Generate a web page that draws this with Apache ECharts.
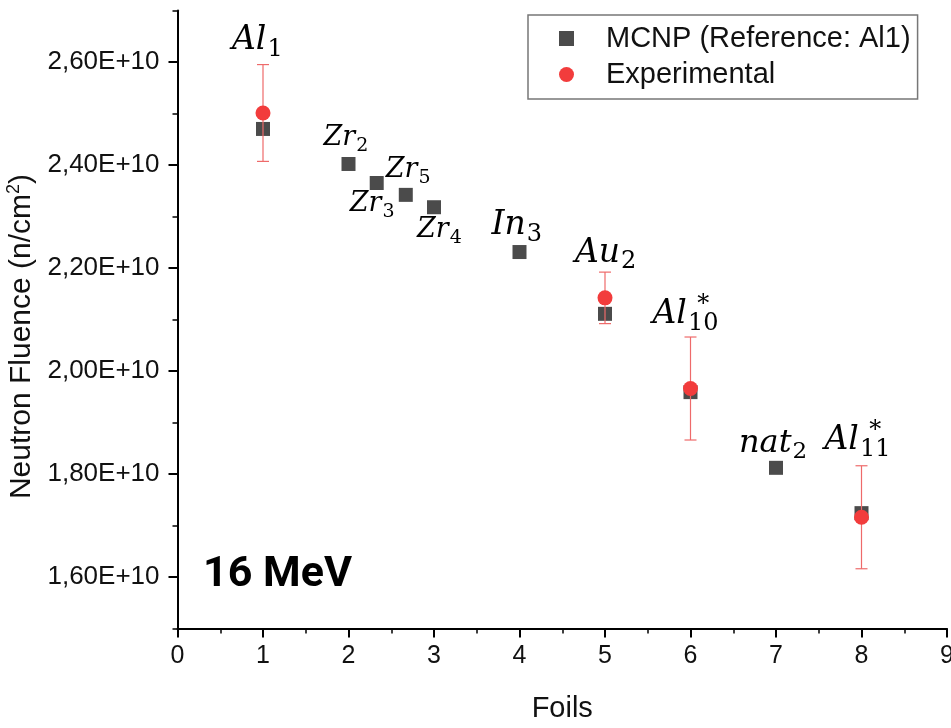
<!DOCTYPE html>
<html><head><meta charset="utf-8">
<script src="https://cdn.jsdelivr.net/npm/echarts@6/dist/echarts.min.js"></script>
<style>html,body{margin:0;padding:0;background:#fff}#c{width:951px;height:728px}</style>
</head><body><div id="c"></div>
<script>
// ---- data ----
const mcnpX = [1, 2, 2.33, 2.67, 3, 4, 5, 6, 7, 8];
const mcnpY = [2.470e10, 2.402e10, 2.365e10, 2.342e10, 2.318e10, 2.231e10, 2.111e10, 1.959e10, 1.812e10, 1.724e10];
const expX = [1, 5, 6, 8];
const expY = [2.501e10, 2.142e10, 1.966e10, 1.716e10];
const expErr = [0.094e10, 0.050e10, 0.100e10, 0.100e10];
const foilBase = ['Al', 'Zr', 'Zr', 'Zr', 'Zr', 'In', 'Au', 'Al', 'nat', 'Al'];
const foilSub = ['1', '2', '3', '5', '4', '3', '2', '10', '2', '11'];
const foilSup = ['', '', '', '', '', '', '', '*', '', '*'];
const yMajorTicks = [1.6e10, 1.8e10, 2.0e10, 2.2e10, 2.4e10, 2.6e10];
const yMinorTicks = [1.5e10, 1.7e10, 1.9e10, 2.1e10, 2.3e10, 2.5e10, 2.7e10];
const seriesNames = ['MCNP (Reference: Al1)', 'Experimental'];
const panelTitle = '16 MeV';

// ---- layout / styles ----
const labelOffsets = [[-31, -79], [-25, -18], [-27, 29], [-20, -17], [-17, 31], [-28, -17], [-30, -51], [-38, -68], [-37, -15], [-37, -63]];
const labelSizes = [33, 27, 27, 27, 27, 33, 33, 33, 32, 33];
const measureCtx = document.createElement('canvas').getContext('2d');
function textWidth(t, font) { measureCtx.font = font; return measureCtx.measureText(t).width; }
const serif = '"DejaVu Serif"';
const sans = '"Liberation Sans", Arial, sans-serif';

const chart = echarts.init(document.getElementById('c'), null, {renderer: 'canvas'});
const axisCommon = {
  axisLine: {show: true, lineStyle: {color: '#000', width: 2}},
  splitLine: {show: false}
};
const option = {
  backgroundColor: '#fff',
  animation: false,
  grid: {left: 177.5, right: 4, top: 10.5, bottom: 99.5, containLabel: false, outerBoundsMode: 'none'},
  legend: {
    orient: 'vertical', left: 528, top: 15,
    data: seriesNames,
    itemWidth: 15, itemHeight: 15, itemGap: 7,
    padding: [9, 7, 10, 31],
    borderColor: '#777', borderWidth: 1.5, backgroundColor: '#fff',
    textStyle: {fontSize: 29, fontFamily: sans, color: '#111', lineHeight: 28, padding: [0, 0, 0, 27]}
  },
  graphic: [{
    type: 'text', left: 203, top: 554, z: 10,
    style: {text: panelTitle, font: 'bold 43px Roboto, "Liberation Sans", sans-serif', fill: '#000'}
  }],
  xAxis: Object.assign({
    type: 'value', min: 0, max: 9, interval: 1,
    axisTick: {show: true, length: 9, lineStyle: {color: '#000', width: 2}},
    minorTick: {show: true, splitNumber: 2, length: 5, lineStyle: {color: '#000', width: 1.5}},
    axisLabel: {fontSize: 25, fontFamily: sans, color: '#111', margin: 15},
    name: 'Foils', nameLocation: 'middle', nameGap: 66,
    nameTextStyle: {fontSize: 29, fontFamily: sans, color: '#111'}
  }, axisCommon),
  yAxis: [Object.assign({
    type: 'value', min: 1.5e10, max: 2.7e10, position: 'left',
    axisTick: {show: true, length: 9, customValues: yMajorTicks, lineStyle: {color: '#000', width: 2}},
    axisLabel: {customValues: yMajorTicks, fontSize: 26, fontFamily: sans, color: '#111', margin: 18,
      formatter: v => (v / 1e10).toFixed(2).replace('.', ',') + 'E+10'},
    name: '{m|Neutron Fluence (n/cm}{sup|2}{m|)}', nameLocation: 'middle', nameGap: 138,
    nameTextStyle: {padding: [0, 34, 0, 0], rich: {
      m: {fontSize: 30, fontFamily: sans, color: '#111', lineHeight: 34},
      sup: {fontSize: 18, fontFamily: sans, color: '#111', verticalAlign: 'top', lineHeight: 18}
    }}
  }, axisCommon), {
    type: 'value', min: 1.5e10, max: 2.7e10, position: 'left',
    axisLine: {show: false}, splitLine: {show: false}, axisLabel: {show: false},
    axisTick: {show: true, length: 5, customValues: yMinorTicks, lineStyle: {color: '#000', width: 1.5}}
  }],
  series: [
    {
      name: seriesNames[0], type: 'scatter', symbol: 'rect', symbolSize: 14,
      itemStyle: {color: '#4b4b4b', opacity: 1},
      data: mcnpX.map((x, i) => [x, mcnpY[i]]), z: 2
    },
    {
      name: 'err', type: 'custom', z: 3, silent: true,
      data: expX.map((x, i) => [x, expY[i], expErr[i]]),
      encode: {x: 0, y: 1},
      renderItem: (params, api) => {
        const x = api.value(0), y = api.value(1), e = api.value(2);
        const t = api.coord([x, y + e]), b = api.coord([x, y - e]);
        const w = 6, st = {stroke: '#ee6a6a', lineWidth: 1.2};
        return {type: 'group', children: [
          {type: 'line', shape: {x1: t[0], y1: t[1], x2: b[0], y2: b[1]}, style: st},
          {type: 'line', shape: {x1: t[0] - w, y1: t[1], x2: t[0] + w, y2: t[1]}, style: st},
          {type: 'line', shape: {x1: b[0] - w, y1: b[1], x2: b[0] + w, y2: b[1]}, style: st}
        ]};
      }
    },
    {
      name: seriesNames[1], type: 'scatter', symbol: 'circle', symbolSize: 15,
      itemStyle: {color: '#f23c3c', opacity: 1},
      data: expX.map((x, i) => [x, expY[i]]), z: 4
    },
    {
      name: 'labels', type: 'custom', z: 5, silent: true,
      data: mcnpX.map((x, i) => [x, mcnpY[i]]),
      encode: {x: 0, y: 1},
      renderItem: (params, api) => {
        const i = params.dataIndex;
        const p = api.coord([api.value(0), api.value(1)]);
        const f = labelSizes[i], fs = Math.round(f * 0.72);
        const fontMain = 'italic ' + f + 'px ' + serif;
        const fontSub = fs + 'px ' + serif;
        const x0 = p[0] + labelOffsets[i][0], base = p[1] + labelOffsets[i][1];
        const w = textWidth(foilBase[i], fontMain);
        const children = [
          {type: 'text', style: {x: x0, y: base - 0.3 * f, text: foilBase[i], font: fontMain, fill: '#000', verticalAlign: 'middle', align: 'left'}},
          {type: 'text', style: {x: x0 + w + 1, y: base + 0.2 * f - 0.3 * fs, text: foilSub[i], font: fontSub, fill: '#000', verticalAlign: 'middle', align: 'left'}}
        ];
        if (foilSup[i]) {
          const ws = textWidth(foilSub[i], fontSub);
          children.push({type: 'text', style: {x: x0 + w + 1 + ws / 2, y: base - 0.6 * f, text: foilSup[i], font: fontSub, fill: '#000', verticalAlign: 'middle', align: 'center'}});
        }
        return {type: 'group', children};
      }
    }
  ]
};
chart.setOption(option);
</script>
</body></html>
